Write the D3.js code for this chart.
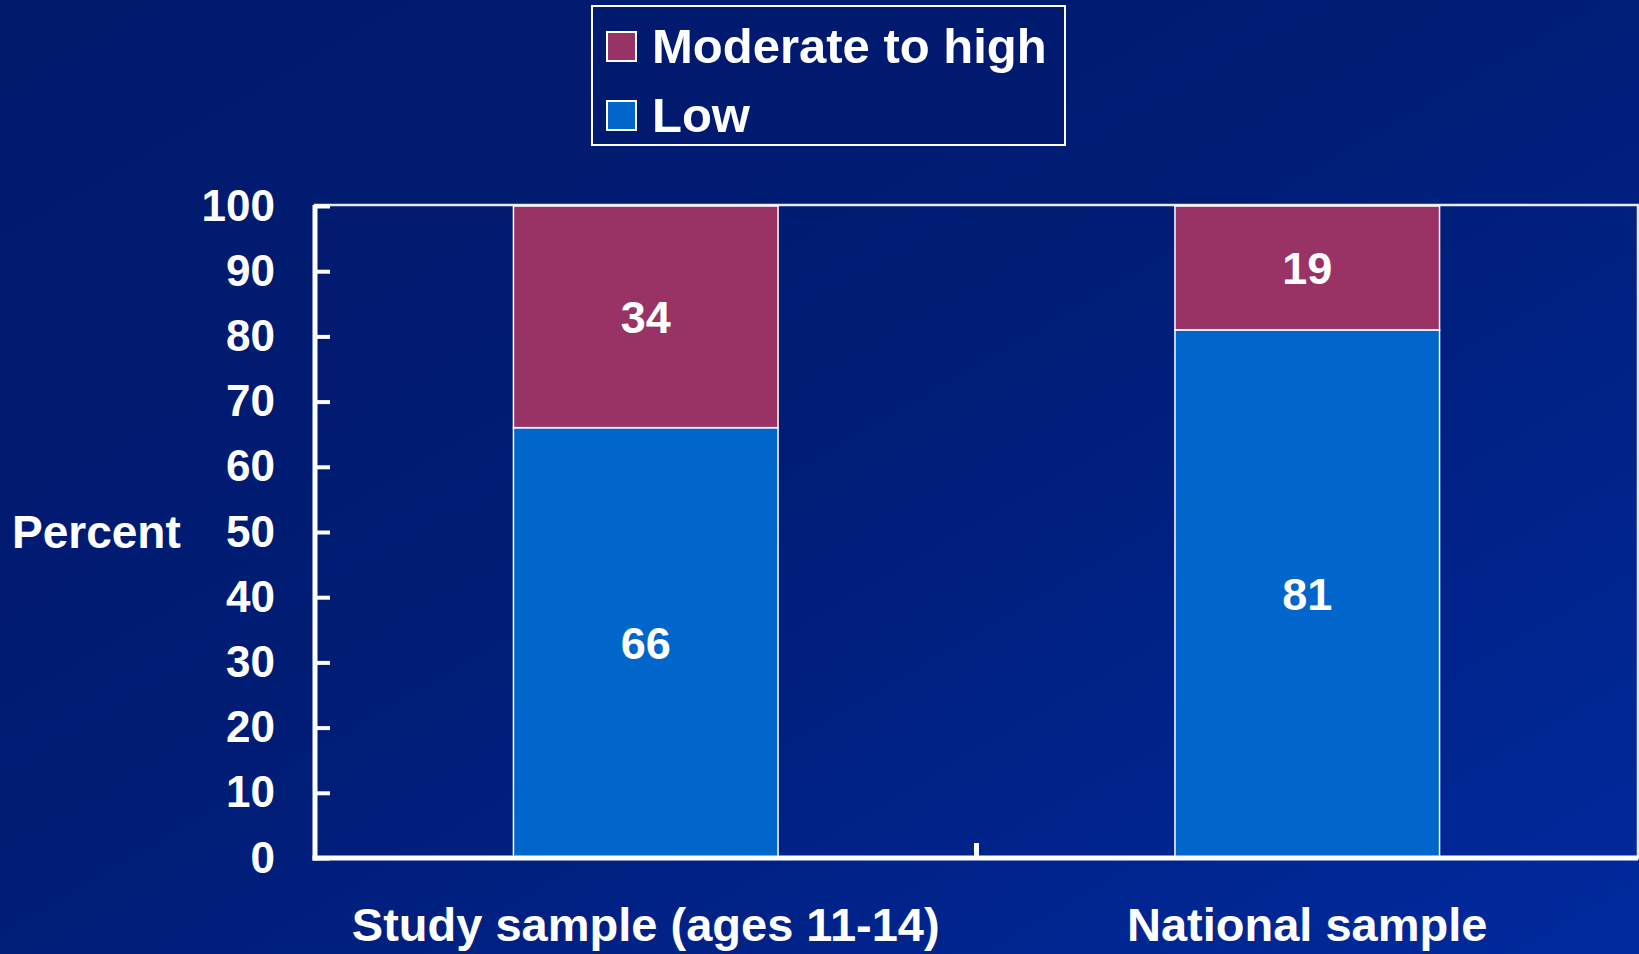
<!DOCTYPE html>
<html>
<head>
<meta charset="utf-8">
<script src="https://cdn.jsdelivr.net/npm/d3@7"></script>
<style>
  html,body{margin:0;padding:0;background:#001a6c;}
  svg{display:block;}
  text{font-family:"Liberation Sans",Arial,sans-serif;font-weight:bold;fill:#fff;}
</style>
</head>
<body>
<svg width="1639" height="954"></svg>
<script>
// data
var categories=["Study sample (ages 11-14)","National sample"];
var seriesNames=["Low","Moderate to high"];
var lowValues=[66,81];
var highValues=[34,19];
var yTicks=[0,10,20,30,40,50,60,70,80,90,100];
var colors={"Low":"#0066cc","Moderate to high":"#993366"};

var drawChart=function(){
  var svg=d3.select("svg");
  var W=1639,H=954;
  var margin={top:206,bottom:96,left:315,right:1};

  // background gradient
  var defs=svg.append("defs");
  var grad=defs.append("linearGradient").attr("id","bg")
    .attr("x1","0").attr("y1","0").attr("x2","1").attr("y2","1");
  grad.append("stop").attr("offset","0").attr("stop-color","#001a6c");
  grad.append("stop").attr("offset","0.45").attr("stop-color","#001c74");
  grad.append("stop").attr("offset","1").attr("stop-color","#002a9e");
  svg.append("rect").attr("width",W).attr("height",H).attr("fill","url(#bg)");

  var plotLeft=margin.left, plotRight=W-margin.right;
  var plotTop=margin.top, plotBottom=H-margin.bottom;

  var x=d3.scaleBand().domain(categories).range([plotLeft,plotRight]).padding(0);
  var y=d3.scaleLinear().domain([0,100]).range([plotBottom,plotTop]);

  // plot frame (top/right)
  svg.append("rect")
    .attr("x",plotLeft).attr("y",y(100)-1)
    .attr("width",plotRight-plotLeft).attr("height",y(0)-y(100)+1)
    .attr("fill","none").attr("stroke","#e8ecf8").attr("stroke-width",2.5);

  // stacked bars
  var stackData=categories.map(function(c,i){
    return {cat:c,"Low":lowValues[i],"Moderate to high":highValues[i]};
  });
  var stack=d3.stack().keys(seriesNames)(stackData);
  var barW=x.bandwidth()*0.4;

  var layers=svg.selectAll("g.layer").data(stack).enter().append("g")
    .attr("class","layer").attr("fill",function(d){return colors[d.key];});
  layers.selectAll("rect").data(function(d){return d;}).enter().append("rect")
    .attr("x",function(d){return x(d.data.cat)+x.bandwidth()/2-barW/2;})
    .attr("width",barW)
    .attr("y",function(d){return y(d[1]);})
    .attr("height",function(d){return y(d[0])-y(d[1]);})
    .attr("stroke","#ffffff").attr("stroke-width",1.5);

  layers.selectAll("text").data(function(d){return d;}).enter().append("text")
    .attr("x",function(d){return x(d.data.cat)+x.bandwidth()/2;})
    .attr("y",function(d){return (y(d[0])+y(d[1]))/2;})
    .attr("dy","0.36em")
    .attr("text-anchor","middle")
    .style("font-size","45px")
    .text(function(d){return d[1]-d[0];});

  // y axis
  var yAxis=d3.axisLeft(y).tickValues(yTicks).tickSize(-15).tickPadding(40);
  var yG=svg.append("g").attr("transform","translate("+plotLeft+",0)").call(yAxis);
  yG.select(".domain").remove();
  yG.selectAll(".tick line").attr("stroke","#fff").attr("stroke-width",4);
  yG.selectAll(".tick text").attr("fill","#fff")
    .style("font-size","44px").style("font-family","'Liberation Sans',Arial,sans-serif").style("font-weight","bold");
  svg.append("line").attr("x1",plotLeft).attr("x2",plotLeft)
    .attr("y1",y(100)-1).attr("y2",y(0)+2.5)
    .attr("stroke","#fff").attr("stroke-width",5);

  // x axis
  svg.append("line").attr("x1",plotLeft-2.5).attr("x2",plotRight)
    .attr("y1",y(0)).attr("y2",y(0))
    .attr("stroke","#fff").attr("stroke-width",5);
  svg.selectAll("line.xtick").data(categories.slice(1)).enter().append("line")
    .attr("class","xtick")
    .attr("x1",function(d){return x(d);}).attr("x2",function(d){return x(d);})
    .attr("y1",y(0)).attr("y2",y(0)-15)
    .attr("stroke","#fff").attr("stroke-width",5);
  svg.selectAll("text.xlabel").data(categories).enter().append("text")
    .attr("class","xlabel")
    .attr("x",function(d){return x(d)+x.bandwidth()/2;})
    .attr("y",941)
    .attr("text-anchor","middle")
    .style("font-size","47px")
    .text(function(d){return d;});

  // y title
  svg.append("text").attr("x",12).attr("y",548)
    .style("font-size","46px").text("Percent");

  // legend
  var legend=svg.append("g").attr("transform","translate(592,6)");
  legend.append("rect").attr("width",473).attr("height",139)
    .attr("fill","#001a70").attr("stroke","#fff").attr("stroke-width",2);
  var legendKeys=seriesNames.slice().reverse();
  var li=legend.selectAll("g.item").data(legendKeys).enter().append("g")
    .attr("class","item")
    .attr("transform",function(d,i){return "translate(0,"+(i*69)+")";});
  li.append("rect").attr("x",15).attr("y",26).attr("width",29).attr("height",29)
    .attr("fill",function(d){return colors[d];})
    .attr("stroke","#fff").attr("stroke-width",2);
  li.append("text").attr("x",60).attr("y",57)
    .style("font-size","49px").text(function(d){return d;});
};
drawChart();
</script>
</body>
</html>
